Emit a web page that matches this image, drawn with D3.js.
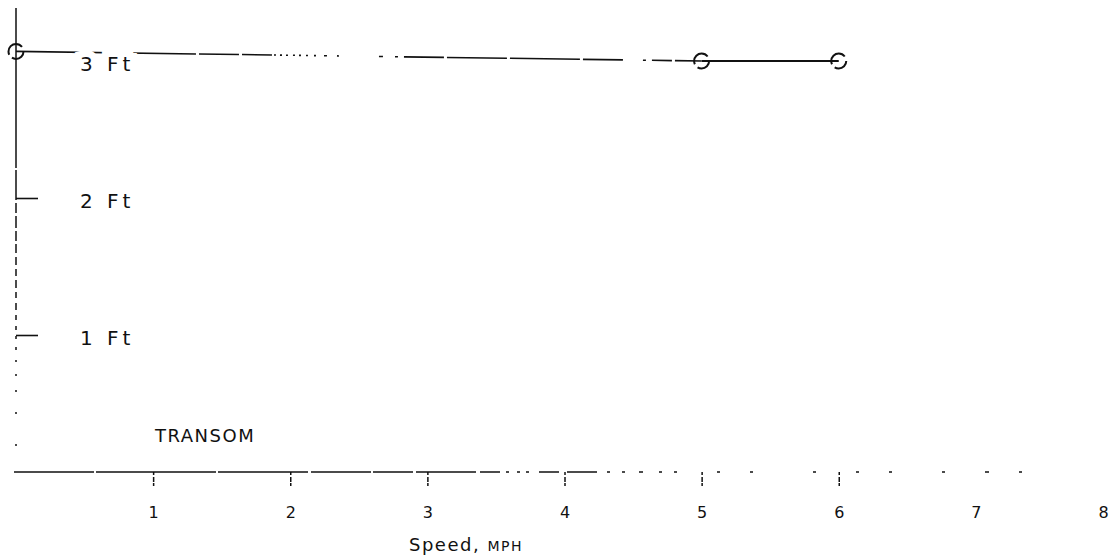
<!DOCTYPE html>
<html>
<head>
<meta charset="utf-8">
<script src="https://cdn.jsdelivr.net/npm/d3@7"></script>
<style>
  body { margin: 0; background: #fff; }
  svg { display: block; }
  .lbl { font-family: "DejaVu Sans", sans-serif; fill: #111; }
</style>
</head>
<body>
<script>
'use strict';

// chart values
var speeds = [0, 5, 6];
var heights = [3.07, 3.0, 3.0];
var xTicks = [1, 2, 3, 4, 5, 6, 7, 8];
var xTickLabels = ['1', '2', '3', '4', '5', '6', '7', '8'];
var yTicks = [1, 2, 3];
var yTickLabels = ['1 Ft', '2 Ft', '3 Ft'];
var seriesName = 'TRANSOM';

var width = 1111, height = 558;

var x = d3.scaleLinear().domain([0, 8]).range([16, 1113]);
var y = d3.scaleLinear().domain([0, 3]).range([472, 61]);

var svg = d3.select('body').append('svg')
    .attr('width', width)
    .attr('height', height);

// scanned axis lines, broken up like the copy
svg.append('line')
    .attr('x1', 14).attr('x2', 1048)
    .attr('y1', y(0)).attr('y2', y(0))
    .attr('stroke', '#111').attr('stroke-width', 1.6)
    .attr('stroke-dasharray', '80,2,120,2,90,3,60,2,40,3,60,4,20,6,3,8,3,6,3,10,20,8,30,10,3,12,3,14,4,16,3,12,3,40,3,30,3,60,3,40,3,30,3,50,3,40,4,30,3,300');

svg.append('line')
    .attr('x1', x(0)).attr('x2', x(0))
    .attr('y1', 8).attr('y2', y(0))
    .attr('stroke', '#111').attr('stroke-width', 1.5)
    .attr('stroke-dasharray', '160,2,30,3,10,3,12,3,10,3,9,4,8,4,7,4,8,4,6,5,7,5,5,6,4,6,3,8,3,10,2,12,2,14,2,20,2,30,2,35,2,100');

// x axis ticks and labels
var xAxis = svg.append('g')
    .attr('transform', 'translate(0,' + y(0) + ')')
    .call(d3.axisBottom(x).tickValues(xTicks).tickSize(14).tickPadding(21)
        .tickFormat(function(d, i) { return xTickLabels[i]; }));
xAxis.select('.domain').remove();
xAxis.selectAll('.tick line')
    .attr('stroke', '#111').attr('stroke-width', 1.5)
    .attr('stroke-dasharray', '3,2,5,1,4');
xAxis.selectAll('.tick').filter(function(d) { return d > 6; })
    .select('line').remove();
xAxis.selectAll('.tick text')
    .attr('class', 'lbl')
    .style('font-size', '16px');
// last label sits on the page edge: pull it in so it stays whole
xAxis.selectAll('.tick').filter(function(d) { return d === 8; })
    .select('text').attr('dx', -10);

// series line
var pts = speeds.map(function(s, i) { return [s, heights[i]]; });
var line = d3.line()
    .x(function(d) { return x(d[0]); })
    .y(function(d) { return y(d[1]); });

svg.append('path')
    .datum(pts.slice(0, 2))
    .attr('d', line)
    .attr('fill', 'none')
    .attr('stroke', '#111').attr('stroke-width', 1.6)
    .attr('stroke-dasharray', '180,3,40,3,30,2,2,4,2,4,2,5,2,4,2,5,2,6,2,8,3,10,2,40,4,12,3,6,40,3,60,3,70,3,40,20,3,6,20,3,30');

svg.append('path')
    .datum(pts.slice(1))
    .attr('d', line)
    .attr('fill', 'none')
    .attr('stroke', '#111').attr('stroke-width', 2);

// y axis ticks and labels, labels on a white halo so they break the line
var yAxis = svg.append('g')
    .attr('transform', 'translate(' + x(0) + ',0)')
    .call(d3.axisRight(y).tickValues(yTicks).tickSize(22).tickPadding(42)
        .tickFormat(function(d, i) { return yTickLabels[i]; }));
yAxis.select('.domain').remove();
yAxis.selectAll('.tick').filter(function(d) { return d === 3; })
    .select('line').remove();
yAxis.selectAll('.tick line')
    .attr('stroke', '#111').attr('stroke-width', 1.6);
yAxis.selectAll('.tick text')
    .attr('class', 'lbl')
    .style('font-size', '20px')
    .attr('dy', '0.45em')
    .attr('letter-spacing', 4)
    .attr('stroke', '#fff').attr('stroke-width', 14)
    .attr('paint-order', 'stroke');

svg.selectAll('.pt')
    .data(pts)
    .enter().append('circle')
    .attr('class', 'pt')
    .attr('cx', function(d) { return x(d[0]); })
    .attr('cy', function(d) { return y(d[1]); })
    .attr('r', 7.5)
    .attr('fill', 'none')
    .attr('stroke', '#111').attr('stroke-width', 2)
    .attr('stroke-dasharray', '16,4,22,5');

// series label
svg.append('text')
    .attr('class', 'lbl')
    .attr('x', 155).attr('y', 442)
    .style('font-size', '18px')
    .attr('letter-spacing', 1.5)
    .text(seriesName);

// axis title
var title = svg.append('text')
    .attr('class', 'lbl')
    .attr('x', 409).attr('y', 551)
    .style('font-size', '18px')
    .attr('letter-spacing', 1.5);
title.append('tspan').text('Speed,  ');
title.append('tspan').style('font-size', '14px').text('MPH');
</script>
</body>
</html>
